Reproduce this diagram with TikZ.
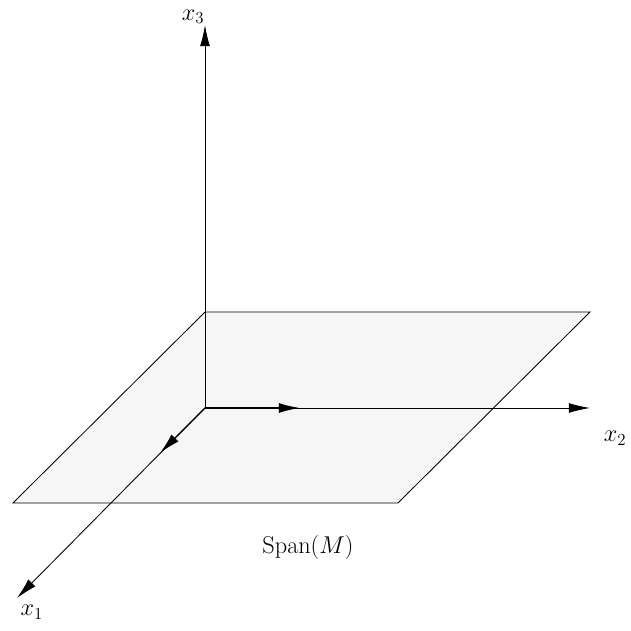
\documentclass[tikz,border=0pt]{standalone}
\usepackage{amsmath}
\usetikzlibrary{arrows.meta, positioning}

\begin{document}
\begin{tikzpicture}[
    >={Latex[length=15pt, width=7pt]},
    every node/.style={font=\LARGE},
    axis/.style={->, black, line width=0.6pt},
    basis/.style={->, black, line width=1pt},
    plane/.style={draw=black, line width=0.6pt, fill=gray!7},
]
    \useasboundingbox (-5.125,-5.575) rectangle (10.65,10.2);

    % Points
    \coordinate (O) at (0,0);
    \coordinate (E1) at (-4.7,-4.75);
    \coordinate (E2) at (9.625,0);
    \coordinate (E3) at (0,9.575);
    \coordinate (u1) at (-1.125,-1.125);
    \coordinate (u2) at (2.375,0);

    % Span(M) plane
    \draw[plane] (0,2.4) coordinate (p1) -- (9.625,2.4) coordinate (p2)
        -- (4.825,-2.375) coordinate (p3) -- (-4.8,-2.375) coordinate (p4) -- cycle;
    \node (span) at (2.575,-3.475) {$\operatorname{Span}(M)$};

    % Axes
    \draw[axis] (O) -- (E3);
    \draw[axis] (O) -- (E2);
    \draw[axis] (O) -- (E1);
    \node (lx3) at (-0.3,9.78) {$x_3$};
    \node (lx2) at (10.25,-0.75) {$x_2$};
    \node (lx1) at (-4.33,-5.1) {$x_1$};

    % Basis vectors
    \draw[basis] (O) -- (u2);
    \draw[basis] (O) -- (u1);
\end{tikzpicture}
\end{document}
